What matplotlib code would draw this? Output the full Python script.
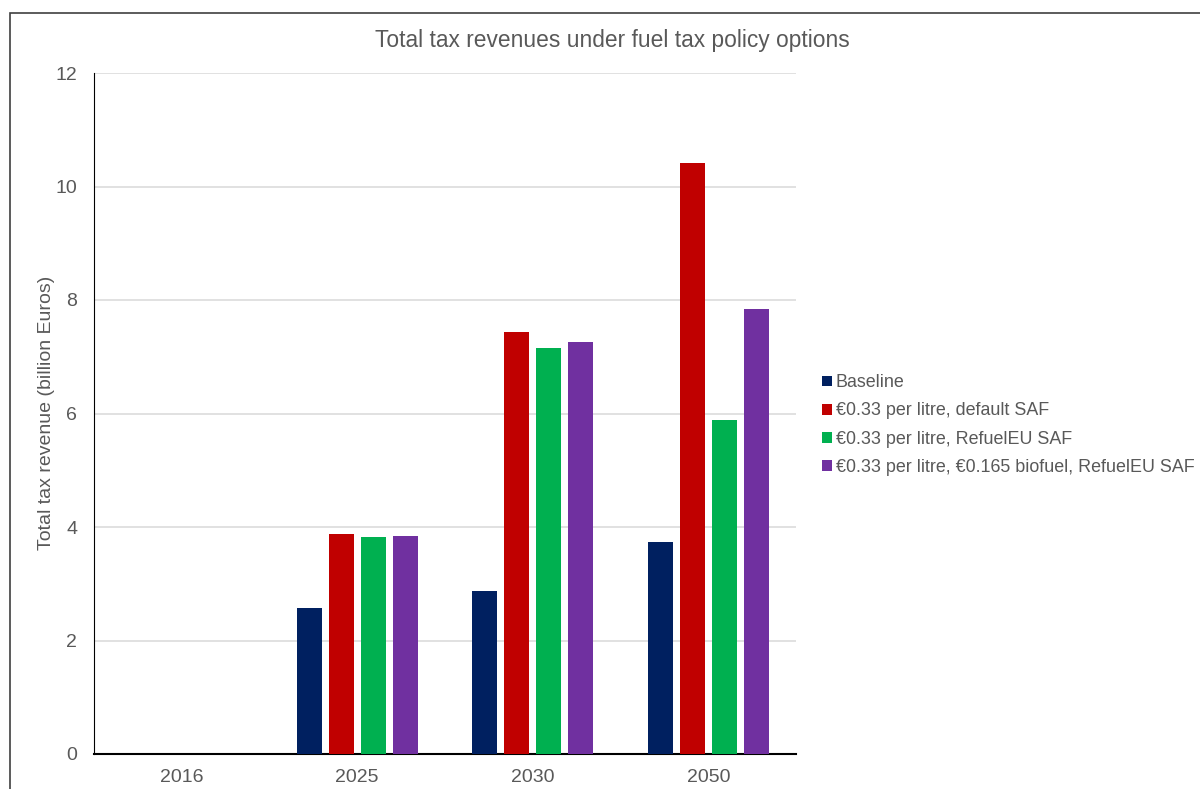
import numpy as np
import matplotlib
matplotlib.use("Agg")
import matplotlib.pyplot as plt
from matplotlib.patches import Rectangle

plt.rcParams['font.family'] = ['Liberation Sans', 'DejaVu Sans']

years = ['2016', '2025', '2030', '2050']
series_names = ['Baseline',
                '€0.33 per litre, default SAF',
                '€0.33 per litre, RefuelEU SAF',
                '€0.33 per litre, €0.165 biofuel, RefuelEU SAF']
baseline = [np.nan, 2.57, 2.87, 3.74]
default_saf = [np.nan, 3.88, 7.44, 10.41]
refueleu_saf = [np.nan, 3.83, 7.15, 5.89]
biofuel_saf = [np.nan, 3.84, 7.26, 7.84]
colours = ['#002060', '#c00000', '#00b050', '#7030a0']

grey = '#595959'

fig = plt.figure(figsize=(12, 7.89), dpi=100)
ax = fig.add_axes([94 / 1200, 35 / 789, 702 / 1200, 681 / 789])

x = np.arange(len(years))
width = 0.142
step = 0.182
for i, (vals, name, col) in enumerate(zip([baseline, default_saf, refueleu_saf, biofuel_saf],
                                          series_names, colours)):
    ax.bar(x + (i - 1.5) * step, vals, width, color=col, label=name, zorder=3)

ax.set_xlim(-0.5, 3.5)
ax.set_ylim(0, 12)
ax.set_yticks(range(0, 13, 2))
ax.set_xticks(x)
ax.set_xticklabels(years)
ax.tick_params(length=0, labelsize=14, colors=grey, pad=11)
ax.tick_params(axis='y', pad=12)
ax.grid(axis='y', color='#dcdcdc', linewidth=1.2, zorder=0)
for s in ['top', 'right']:
    ax.spines[s].set_visible(False)
ax.spines['left'].set_color('black')
ax.spines['bottom'].set_color('black')
ax.spines['bottom'].set_linewidth(1.5)

ax.set_ylabel('Total tax revenue (billion Euros)', fontsize=14, color=grey)
ax.yaxis.set_label_coords(55 / 1200, 1 - 413 / 789, transform=fig.transFigure)
fig.text(612 / 1200, 1 - 40 / 789, 'Total tax revenues under fuel tax policy options',
         ha='center', va='center', fontsize=16.4, color=grey)

leg = ax.legend(loc='center left', bbox_to_anchor=(806 / 1200, 1 - 425 / 789),
                bbox_transform=fig.transFigure, frameon=False, fontsize=12.9,
                handlelength=0.55, handleheight=0.55, handletextpad=0.2,
                labelspacing=0.62, labelcolor=grey)

# outer chart border
fig.patches.append(Rectangle((10 / 1200, -0.1), 1.2, 1.1 - 13 / 789,
                             transform=fig.transFigure, fill=False,
                             edgecolor='#404040', linewidth=1.2))

fig.savefig('out.png', dpi=100)
